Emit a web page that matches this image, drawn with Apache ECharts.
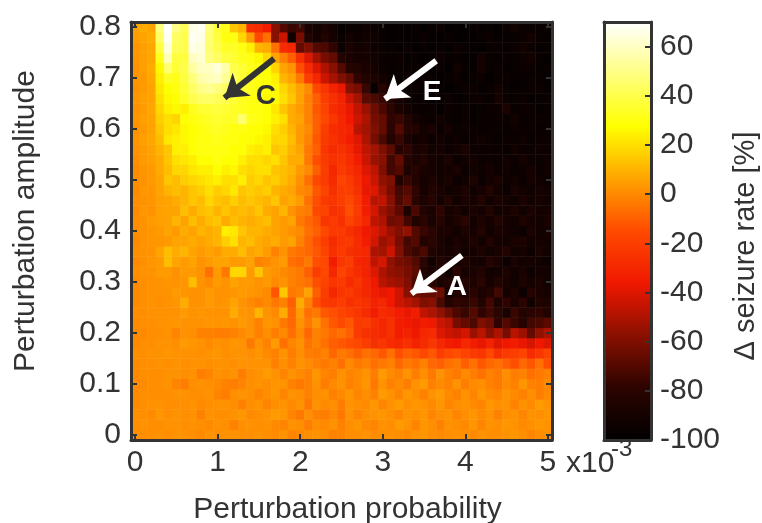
<!DOCTYPE html>
<html><head><meta charset="utf-8">
<style>html,body{margin:0;padding:0;background:#fff}#c{width:762px;height:523px}</style>
<script src="https://cdn.jsdelivr.net/npm/echarts@6/dist/echarts.min.js"></script>
</head><body><div id="c"></div>
<script>
const xCategories=['0','0.1','0.2','0.3','0.4','0.5','0.6','0.7','0.8','0.9','1','1.1','1.2','1.3','1.4','1.5','1.6','1.7','1.8','1.9','2','2.1','2.2','2.3','2.4','2.5','2.6','2.7','2.8','2.9','3','3.1','3.2','3.3','3.4','3.5','3.6','3.7','3.8','3.9','4','4.1','4.2','4.3','4.4','4.5','4.6','4.7','4.8','4.9','5'];
const yCategories=['0','0.02','0.04','0.06','0.08','0.1','0.12','0.14','0.16','0.18','0.2','0.22','0.24','0.26','0.28','0.3','0.32','0.34','0.36','0.38','0.4','0.42','0.44','0.46','0.48','0.5','0.52','0.54','0.56','0.58','0.6','0.62','0.64','0.66','0.68','0.7','0.72','0.74','0.76','0.78','0.8'];
const a80=[5,8,6,48,70,50,42,66,68,48, 36,32,14,10,-26,-28,-34,-58,-70,-76, -74,-88,-92,-88,-92,-98,-96,-96,-94,-94, -96,-98,-97,-98,-96,-98,-96,-95,-98,-97, -98,-96,-97,-96,-98,-95,-92,-95,-96,-97,-96];
const a78=[4,6,8,44,68,44,40,68,66,46, 38,30,30,18,4,-16,-6,-58,-44,-92, -62,-84,-90,-84,-90,-96,-92,-94,-92,-92, -96,-97,-96,-98,-97,-95,-97,-98,-96,-98, -97,-98,-96,-94,-97,-96,-96,-94,-92,-96,-97];
const a76=[3,5,7,38,64,42,40,66,64,46, 40,34,34,30,24,10,8,-6,-28,-30, -66,-60,-70,-72,-78,-94,-88,-92,-90,-94, -95,-96,-97,-95,-98,-96,-97,-96,-98,-94, -96,-97,-98,-96,-95,-97,-94,-92,-95,-97,-96];
const a74=[3,5,7,32,58,38,38,60,62,48, 44,38,36,32,30,26,18,6,-2,-10, -26,-40,-52,-62,-66,-84,-88,-90,-90,-92, -95,-96,-94,-97,-96,-98,-96,-94,-97,-96, -98,-97,-90,-96,-97,-95,-96,-93,-92,-96,-98];
const a72=[2,5,8,26,46,36,40,54,60,60, 64,56,40,36,32,30,28,18,6,2, -14,-28,-40,-50,-58,-70,-82,-84,-88,-90, -94,-96,-95,-97,-96,-94,-97,-96,-98,-92, -96,-97,-90,-96,-95,-97,-96,-94,-95,-97,-96];
const a70=[3,4,7,24,34,32,38,48,56,58, 60,52,42,36,32,30,28,24,10,6, -4,-20,-30,-44,-52,-60,-66,-78,-84,-86, -92,-95,-96,-94,-97,-96,-95,-97,-96,-94, -97,-96,-95,-98,-96,-94,-97,-96,-95,-96,-97];
const a68=[2,4,6,22,28,30,36,44,50,52, 48,44,38,34,32,30,28,26,18,12, 6,0,-16,-24,-32,-38,-58,-62,-76,-96, -82,-90,-94,-96,-95,-97,-94,-96,-98,-96, -95,-94,-97,-96,-92,-95,-97,-96,-95,-94,-97];
const a66=[3,5,6,20,26,28,34,40,44,44, 42,40,36,32,30,30,26,26,20,14, 6,-2,-10,-20,-26,-32,-44,-52,-68,-72, -76,-84,-90,-94,-96,-95,-97,-96,-94,-97, -96,-95,-94,-96,-90,-95,-96,-94,-97,-96,-95];
const a64=[2,4,7,18,24,26,24,32,36,36, 38,36,34,32,30,30,28,22,14,8, 4,-2,-12,-18,-28,-32,-38,-46,-54,-64, -72,-80,-88,-92,-94,-96,-95,-97,-94,-96, -95,-97,-96,-94,-95,-88,-96,-94,-95,-97,-96];
const a62=[3,5,6,16,20,18,28,30,32,34, 36,34,34,46,32,30,28,24,20,8, 6,-2,-10,-16,-24,-30,-36,-44,-50,-62, -66,-78,-76,-84,-90,-94,-95,-92,-95,-96, -94,-97,-95,-96,-94,-95,-92,-96,-95,-94,-96];
const a60=[2,4,6,14,20,22,26,28,30,32, 34,32,30,30,28,28,26,20,16,10, 4,0,-10,-20,-28,-30,-32,-48,-52,-60, -66,-80,-70,-82,-84,-92,-88,-94,-90,-95, -93,-95,-96,-94,-95,-96,-93,-95,-94,-96,-95];
const a58=[3,5,7,12,22,24,26,28,30,30, 32,30,30,28,28,26,24,18,18,12, 4,-2,-12,-22,-26,-30,-34,-40,-50,-62, -72,-84,-76,-88,-92,-90,-94,-92,-95,-93, -96,-94,-92,-95,-96,-94,-95,-93,-96,-94,-95];
const a56=[2,4,6,10,14,24,24,28,30,30, 30,30,28,28,24,22,24,14,16,10, 6,-4,-10,-24,-28,-26,-30,-38,-46,-52, -60,-68,-82,-78,-88,-86,-92,-90,-94,-92, -88,-94,-95,-93,-94,-96,-92,-94,-95,-93,-94];
const a54=[1,4,5,8,14,20,22,24,28,28, 30,28,28,24,20,20,18,20,14,8, 8,-4,-14,-22,-26,-24,-28,-34,-44,-54, -58,-74,-66,-82,-88,-84,-90,-92,-88,-94, -92,-90,-94,-93,-95,-92,-94,-90,-94,-95,-93];
const a52=[0,3,4,8,12,18,18,22,24,24, 28,24,26,20,18,20,20,14,12,10, 4,0,-10,-20,-30,-22,-26,-30,-40,-46, -60,-74,-70,-86,-82,-88,-90,-92,-90,-88, -94,-92,-93,-90,-94,-92,-95,-93,-90,-94,-92];
const a50=[1,2,4,6,14,12,16,18,20,22, 24,20,20,24,16,18,14,16,12,8, 2,-6,-16,-22,-28,-18,-22,-28,-36,-44, -56,-60,-84,-76,-84,-90,-86,-92,-88,-94, -92,-86,-94,-91,-88,-93,-92,-94,-90,-93,-94];
const a48=[0,3,3,6,10,12,10,14,16,20, 16,18,22,14,16,14,16,10,8,6, 0,-2,-12,-18,-26,-20,-20,-26,-38,-40, -52,-62,-74,-70,-78,-90,-84,-88,-92,-90, -86,-93,-90,-84,-92,-94,-88,-92,-93,-90,-92];
const a46=[1,2,3,5,6,8,10,14,12,18, 14,12,16,12,14,12,10,14,6,8, 4,-6,-14,-22,-24,-20,-16,-24,-34,-48, -46,-58,-72,-66,-80,-86,-82,-90,-84,-92, -88,-90,-84,-92,-88,-90,-93,-87,-92,-90,-93];
const a44=[0,3,2,5,6,6,12,8,12,14, 10,14,10,12,10,14,8,6,10,2, -2,-4,-16,-18,-26,-24,-14,-22,-34,-42, -54,-60,-68,-86,-72,-84,-88,-78,-90,-86, -92,-88,-90,-84,-92,-90,-86,-92,-88,-91,-90];
const a42=[1,2,4,5,6,10,6,12,8,12, 14,8,12,10,8,10,12,6,4,6, -4,-8,-12,-24,-22,-26,-18,-24,-30,-46, -50,-64,-62,-74,-84,-80,-88,-82,-90,-86, -80,-92,-86,-90,-84,-90,-92,-86,-90,-92,-88];
const a40=[1,2,3,4,6,4,8,6,10,8, 10,24,22,14,10,10,8,6,4,2, 0,-6,-10,-16,-22,-22,-26,-30,-36,-40, -46,-54,-60,-56,-70,-76,-80,-86,-88,-92, -86,-90,-84,-92,-88,-90,-92,-94,-88,-92,-90];
const a38=[0,2,3,3,4,6,6,8,6,8, 10,16,20,10,12,8,6,8,4,6, -2,-8,-14,-20,-28,-24,-22,-28,-34,-42, -54,-50,-62,-74,-70,-84,-80,-88,-92,-88, -90,-86,-92,-84,-90,-92,-88,-86,-92,-90,-92];
const a36=[1,2,2,6,12,8,10,6,4,6, 4,8,8,12,6,8,4,-2,2,-4, -6,-8,-12,-18,-26,-22,-26,-28,-30,-50, -52,-44,-60,-72,-76,-72,-84,-88,-90,-86, -92,-90,-86,-92,-88,-84,-92,-90,-94,-88,-92];
const a34=[0,1,3,4,12,6,4,6,2,4, 6,6,4,4,6,-2,0,2,4,-6, -8,-4,-14,-16,-34,-24,-20,-30,-32,-46, -42,-56,-62,-64,-70,-80,-92,-84,-88,-90, -86,-90,-92,-82,-88,-94,-88,-92,-90,-92,-94];
const a32=[1,2,2,4,4,2,4,4,2,-6, 4,-4,18,18,4,14,4,2,0,-2, -4,-10,-20,-16,-30,-18,-24,-28,-32,-40, -50,-56,-58,-62,-68,-84,-88,-86,-92,-80, -90,-88,-84,-92,-90,-86,-92,-88,-94,-90,-92];
const a30=[0,1,2,2,3,2,3,12,2,0, 4,2,6,4,4,2,4,0,2,-2, -4,-6,-14,-18,-24,-22,-28,-24,-30,-36, -48,-52,-54,-60,-72,-84,-80,-88,-84,-90, -82,-86,-80,-90,-84,-88,-92,-86,-90,-88,-92];
const a28=[0,1,2,2,2,4,3,2,2,4, 2,2,3,4,3,2,0,-12,14,-4, -2,6,-10,-20,-30,-24,-22,-26,-30,-34, -38,-36,-44,-58,-64,-66,-66,-64,-90,-84, -86,-80,-88,-84,-74,-90,-86,-94,-82,-88,-90];
const a26=[0,1,2,1,2,3,8,2,2,4, 2,3,6,2,0,-2,0,-4,-2,-10, 8,-2,-14,-22,-24,-20,-26,-24,-26,-32, -30,-36,-44,-48,-52,-60,-58,-72,-84,-78, -80,-76,-84,-74,-86,-78,-88,-80,-92,-84,-86];
const a24=[1,1,2,2,2,2,4,2,3,2, 2,2,8,3,2,10,2,0,8,-8, 4,-6,-4,-12,-14,-18,-20,-24,-28,-34, -28,-30,-34,-38,-34,-46,-50,-56,-64,-72, -76,-70,-78,-74,-80,-88,-76,-84,-80,-78,-84];
const a22=[0,1,1,2,2,3,2,2,2,3, 2,3,2,4,2,-2,3,2,-4,-8, 2,-4,2,-6,-12,-16,-12,-22,-20,-26, -30,-26,-34,-36,-38,-34,-36,-44,-48,-62, -66,-72,-60,-64,-78,-70,-76,-82,-74,-72,-68];
const a20=[0,0,1,1,2,-1,2,1,-2,-2, -3,-3,-2,0,2,-2,1,-3,0,-6, 0,-8,-2,-4,-8,-6,-10,-22,-26,-28, -30,-26,-34,-32,-36,-30,-28,-40,-44,-46, -42,-54,-48,-58,-50,-62,-48,-54,-66,-56,-50];
const a18=[0,1,1,2,2,1,4,3,2,0, 2,1,3,2,-4,2,-2,4,-6,-1, 2,-5,-2,-6,-10,-12,-14,-16,-20,-26, -24,-28,-30,-26,-32,-28,-24,-30,-34,-36, -30,-34,-38,-32,-40,-36,-34,-38,-42,-36,-40];
const a16=[1,1,2,2,3,2,2,2,1,2, 3,1,2,2,1,3,0,-2,2,-3, 1,-3,-4,-2,-8,-4,-6,-10,-6,-8, -12,-6,-14,-10,-12,-16,-12,-20,-16,-14, -18,-22,-24,-16,-26,-22,-20,-18,-28,-24,-18];
const a14=[0,1,1,2,1,2,1,2,2,1, 2,2,1,2,2,2,2,-2,1,-2, 2,0,-2,-4,-2,-6,0,-4,-2,-6, -4,-2,-8,-4,-6,-2,-8,-10,-6,-4, -10,-6,-12,-8,-6,-10,-14,-8,-12,-6,-14];
const a12=[0,1,1,1,2,2,1,2,-3,-1, 2,1,2,-3,1,2,4,2,-1,2, 0,-2,3,-1,-3,2,-1,0,2,-3, 4,0,-2,2,-3,1,-4,2,-2,-4, 0,-3,-6,-2,-4,1,-3,-2,-6,-4,-2];
const a10=[0,0,1,1,2,-1,-3,1,2,1, 0,-2,-3,-1,1,2,1,3,2,-2, -4,-2,2,-3,0,2,-2,0,3,-4, 2,-2,0,-3,2,4,-2,0,-2,2, -3,0,1,-2,-4,0,-2,3,-2,-3,0];
const a08=[0,1,1,1,1,2,2,1,1,2, -1,-3,1,2,1,-1,1,3,-1,2, 1,-2,1,2,-2,0,3,-1,1,-2, 4,2,-1,3,1,-2,2,4,0,-2, 2,-1,3,0,-1,2,0,-2,1,-3,0];
const a06=[0,1,2,2,1,1,1,2,0,1, 2,2,1,-2,1,2,-1,1,2,0, 2,-4,2,0,1,-3,2,1,0,3, -1,2,4,1,3,2,0,3,-1,1, 2,0,-1,3,1,2,-2,2,0,4,2];
const a04=[1,1,0,3,1,2,1,2,-2,2, 1,1,2,3,0,1,2,4,3,-1, -4,1,-2,-3,0,-4,2,-1,1,2, 3,1,-1,2,1,3,-1,1,2,-1, 1,3,0,2,-2,1,2,-1,2,1,3];
const a02=[1,2,1,1,2,2,1,2,1,0, 2,1,-2,1,2,1,2,0,-1,2, 1,-3,1,0,2,-2,1,3,0,-1, 2,1,4,2,-1,3,1,-2,2,1, 0,3,-1,2,1,3,2,0,1,3,2];
const a00=[1,1,1,2,1,2,2,1,0,2, 1,2,2,1,1,2,1,0,2,-1, 0,1,2,1,-2,-1,1,1,2,0, 1,2,1,0,2,3,1,0,1,2, 1,0,2,1,1,2,3,1,-1,1,2];
const rowsBottomUp=[a00,a02,a04,a06,a08,a10,a12,a14,a16,a18,a20,a22,a24,a26,a28,a30,a32,a34,a36,a38,a40,a42,a44,a46,a48,a50,a52,a54,a56,a58,a60,a62,a64,a66,a68,a70,a72,a74,a76,a78,a80];
const arrows=[{name:'C',from:[1.68,0.738],to:[1.08,0.661],label:[1.58,0.664],color:'#333333'},{name:'E',from:[3.64,0.734],to:[3.02,0.659],label:[3.59,0.673],color:'#ffffff'},{name:'A',from:[3.95,0.352],to:[3.34,0.277],label:[3.89,0.289],color:'#ffffff'}];

const cells=[];
rowsBottomUp.forEach((row,j)=>row.forEach((v,i)=>cells.push([i,j,v])));
const INK='#333333', FONT='"Liberation Sans",Arial,sans-serif';
const txt={color:INK,fontFamily:FONT,fontSize:30};
const line={onZero:false,show:true,lineStyle:{color:INK,width:3}};
const tick=(interval)=>({show:true,inside:true,alignWithLabel:true,length:6,interval,lineStyle:{color:INK,width:2}});
const boxAxis=(extra)=>Object.assign({z:10,axisLine:line,splitLine:{show:false}},extra);
const every10=(i)=>i%10===0, every5=(i)=>i%5===0;
const chart=echarts.init(document.getElementById('c'),null,{renderer:'canvas'});
chart.setOption({
 animation:false,backgroundColor:'#fff',
 grid:[{left:131,top:22,width:421,height:418,outerBoundsMode:'none'},{left:604,top:22,width:47,height:418,outerBoundsMode:'none'}],
 xAxis:[
  boxAxis({type:'category',gridIndex:0,data:xCategories,position:'bottom',name:'Perturbation probability',nameLocation:'middle',nameGap:55,nameTextStyle:Object.assign({},txt,{fontSize:30,padding:[0,0,0,12]}),
    axisTick:tick(every10),axisLabel:Object.assign({},txt,{interval:every10,margin:8})}),
  boxAxis({type:'category',gridIndex:0,data:xCategories,position:'top',axisLabel:{show:false},axisTick:tick(every10)}),
  {type:'value',gridIndex:0,show:false,min:-0.05,max:5.04},
  boxAxis({type:'value',gridIndex:1,min:0,max:1,axisLabel:{show:false},axisTick:{show:false},position:'bottom'}),
  boxAxis({type:'value',gridIndex:1,min:0,max:1,axisLabel:{show:false},axisTick:{show:false},position:'top'})
 ],
 yAxis:[
  boxAxis({type:'category',gridIndex:0,data:yCategories,position:'left',name:'Perturbation amplitude',nameLocation:'middle',nameGap:90,nameTextStyle:Object.assign({},txt,{padding:[0,0,0,20]}),
    axisTick:tick(every5),axisLabel:Object.assign({},txt,{interval:every5,margin:10})}),
  boxAxis({type:'category',gridIndex:0,data:yCategories,position:'right',axisLabel:{show:false},axisTick:tick(every5)}),
  {type:'value',gridIndex:0,show:false,min:-0.01,max:0.81},
  boxAxis({type:'value',gridIndex:1,min:-100,max:70,interval:20,position:'right',name:'Δ seizure rate [%]',nameLocation:'middle',nameGap:80,nameRotate:90,nameTextStyle:Object.assign({},txt,{fontSize:29,padding:[0,30,0,0]}),
    axisLabel:Object.assign({},txt,{margin:9,showMaxLabel:false}),axisTick:{show:true,inside:true,length:6,lineStyle:{color:INK,width:2}}}),
  boxAxis({type:'value',gridIndex:1,min:-100,max:70,position:'left',axisLabel:{show:false},axisTick:{show:false}})
 ],
 visualMap:[{type:'continuous',min:-100,max:70,seriesIndex:0,calculable:false,showLabel:false,text:null,left:604,top:22,padding:0,itemWidth:47,itemHeight:418,z:1,orient:'vertical',
   inRange:{color:['#000000','#2c0400','#8a1000','#f01800','#ff4a00','#ffa400','#ffff00','#ffff80','#ffffff']}}],
 graphic:[
  {type:'text',left:566,top:449,z:20,style:{text:'x10',fill:INK,font:'30px '+FONT}},
  {type:'text',left:611,top:437,z:20,style:{text:'-3',fill:INK,font:'24px '+FONT}}
 ],
 series:[
  {type:'heatmap',xAxisIndex:0,yAxisIndex:0,data:cells,progressive:0,emphasis:{disabled:true}},
  {type:'lines',coordinateSystem:'cartesian2d',xAxisIndex:2,yAxisIndex:2,z:6,polyline:false,symbol:['none','arrow'],symbolSize:[0,22],silent:true,
   data:arrows.map(a=>({coords:[a.from,a.to],lineStyle:{color:a.color,width:6,opacity:1}}))},
  {type:'scatter',xAxisIndex:2,yAxisIndex:2,z:7,symbolSize:1,itemStyle:{opacity:0},silent:true,
   data:arrows.map(a=>({value:a.label,name:a.name,label:{show:true,position:'inside',formatter:'{b}',fontFamily:FONT,fontSize:28,fontWeight:'bold',color:a.color,opacity:1}}))}
 ]
});
</script></body></html>
